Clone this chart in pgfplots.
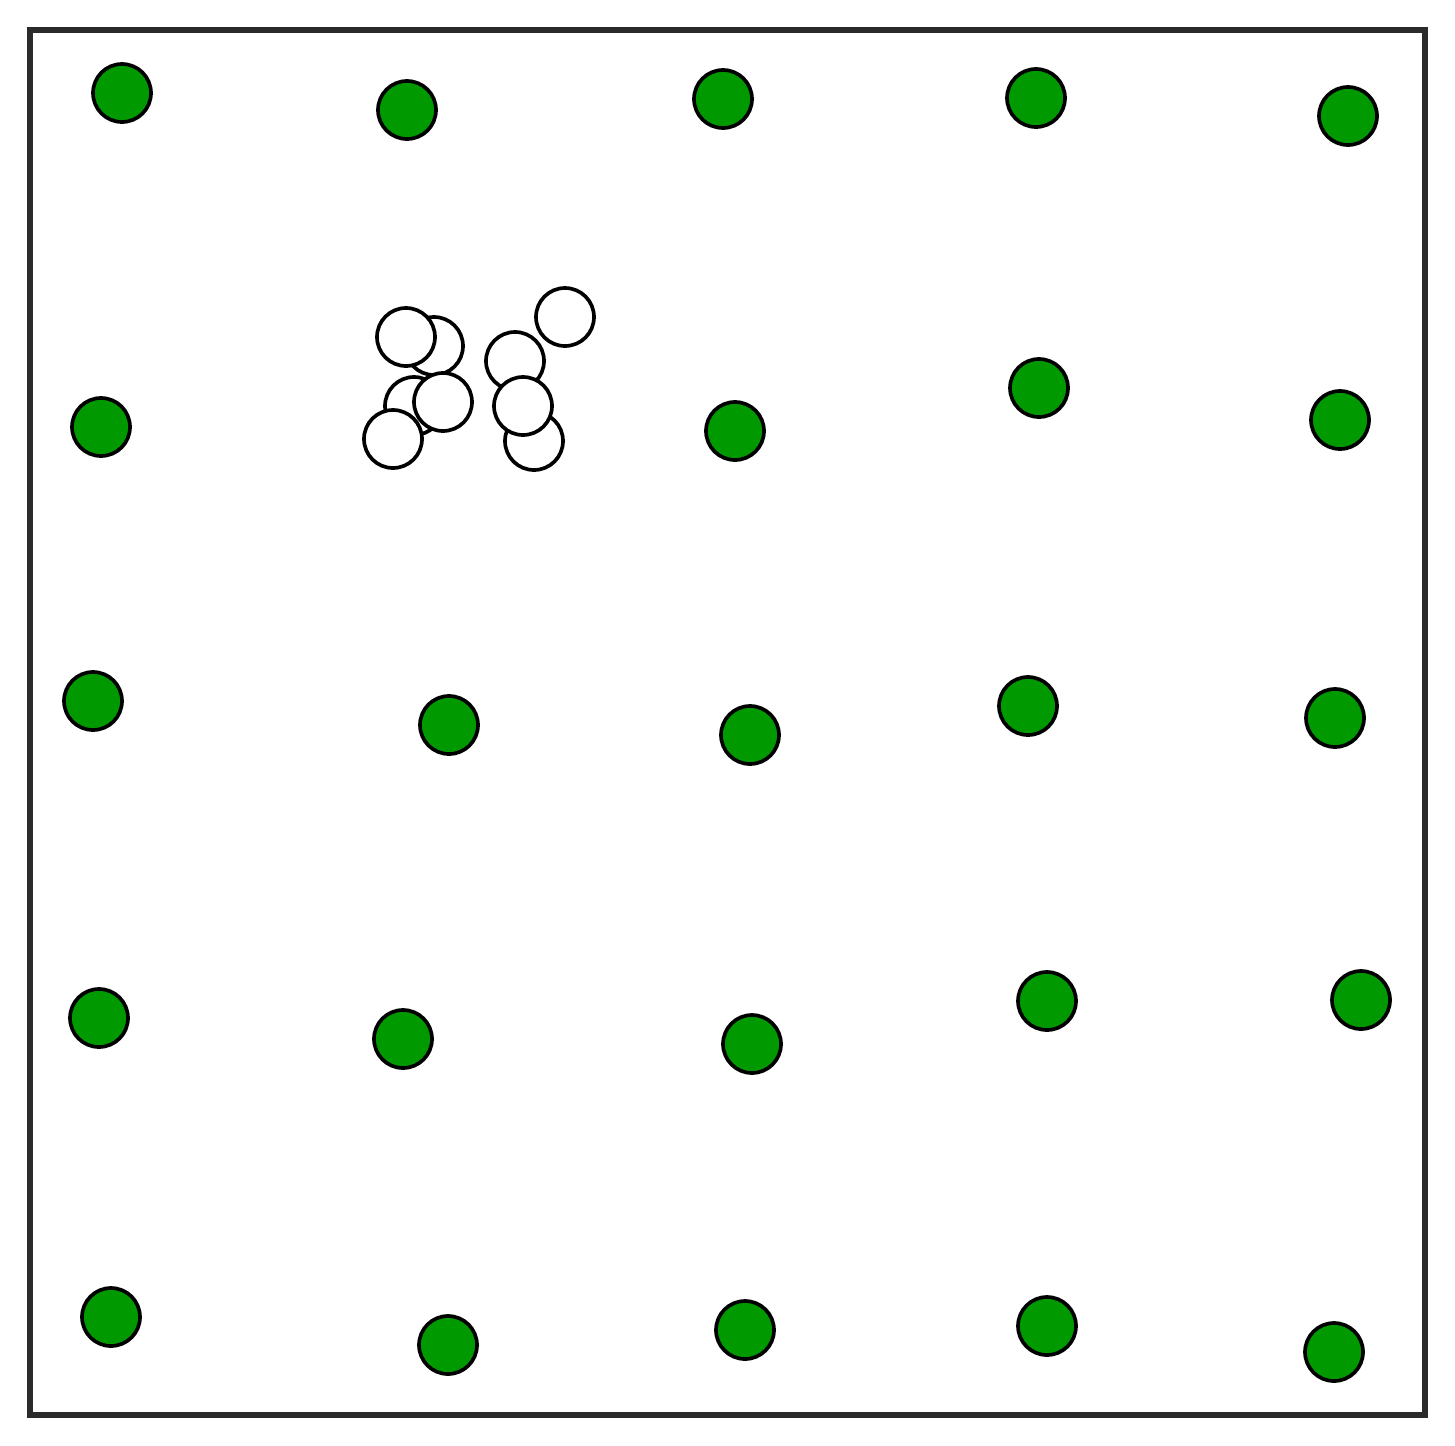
\documentclass[border=0pt]{standalone}
\usepackage{pgfplots}
\pgfplotsset{compat=1.18}
\definecolor{ptgreen}{RGB}{0,153,0}
\definecolor{frame}{RGB}{43,43,43}
\begin{document}
\begin{tikzpicture}
\begin{axis}[
  scale only axis, width=418.5pt, height=415.5pt,
  xmin=30, xmax=1425, ymin=30, ymax=1415, y dir=reverse,
  axis line style={frame, line width=1.6pt},
  ticks=none, clip=false,
]
\addplot[only marks, mark=*, mark size=8.7pt, mark options={fill=ptgreen, draw=black, line width=1.1pt}] coordinates {
(122,93) (407,110) (723,99) (1036,98) (1348,116)
(101,427) (735,431) (1039,388) (1340,420)
(93,701) (449,725) (750,735) (1028,706) (1335,718)
(99,1018) (403,1039) (752,1044) (1047,1001) (1361,1000)
(111,1317) (448,1345) (745,1330) (1047,1326) (1334,1352)
};
\addplot[only marks, mark=*, mark size=8.7pt, mark options={fill=white, draw=black, line width=1.1pt}] coordinates {
(434,346) (406,337) (414,406) (443,402) (393,439) (534,441) (515,361) (523,406) (565,317)
};
\path (axis cs:0,0) (axis cs:1455,1446);
\end{axis}
\end{tikzpicture}
\end{document}
